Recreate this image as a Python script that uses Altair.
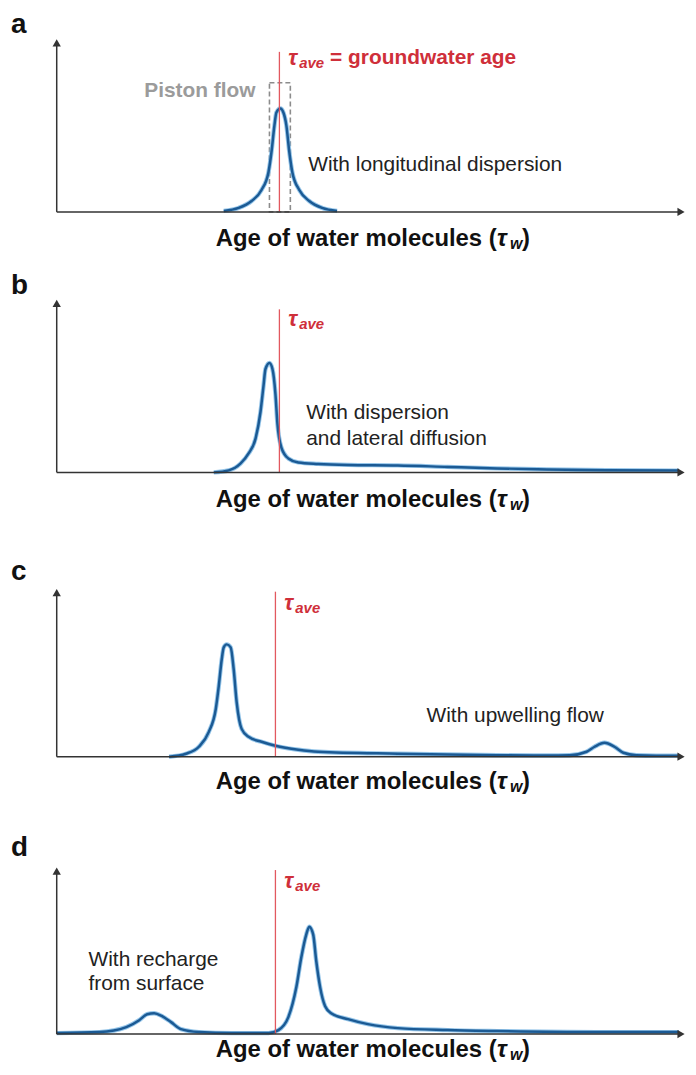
import altair as alt
import pandas as pd

FONT = "Liberation Sans"
BLUE = "#1b5a94"
HALO = "#7ab6e3"
RED_LINE = "#e2585f"
RED_TEXT = "#cf2f3a"
AXIS = "#333333"
GRAY = "#8c8c8c"

# ---------------- data ----------------
panel_letters = ["a", "b", "c", "d"]

# age of water molecules (arbitrary units) vs relative frequency
a_age = [168, 183, 196, 206, 213, 216, 219, 221, 225, 228, 231, 234, 237, 244, 254, 267, 282]
a_freq = [1, 4, 11, 22, 40, 60, 87, 100, 104, 100, 87, 60, 40, 22, 11, 4, 1]

b_age = [158, 173, 185, 193, 200, 205, 208, 210, 214, 217, 220, 222, 226, 233, 243, 263, 293, 343, 393, 443, 493, 553, 626]
b_freq = [0, 2, 9, 19, 34, 61, 87, 104, 110, 104, 79, 49, 25, 14, 10, 8.5, 7.5, 7, 5.5, 4, 3, 2.2, 1.8]

c_age = [113, 130, 143, 153, 160, 163, 166, 168, 171, 175, 178, 181, 186, 193, 206, 220, 243, 263, 343, 443,
         493, 516, 533, 541, 551, 561, 570, 583, 603, 626]
c_freq = [0, 3, 10, 25, 48, 71, 98, 110, 113, 110, 88, 55, 28, 20, 15, 11, 7, 5, 3, 1.5,
          1.2, 1.5, 5, 10, 14, 10, 4, 1.5, 1, 1]

d_age = [0, 43, 70, 83, 91, 98, 106, 115, 125, 143, 176, 213, 223, 233, 241, 246, 251, 254, 258, 261,
         265, 270, 276, 293, 313, 343, 393, 443, 543, 626]
d_freq = [1, 2, 7, 14, 20, 21, 18, 12, 5, 2, 1, 1, 4, 17, 47, 77, 100, 108, 100, 74,
          47, 28, 21, 15, 10, 6, 4, 3, 2, 2]

curves_age = [a_age, b_age, c_age, d_age]
curves_freq = [a_freq, b_freq, c_freq, d_freq]

tau_ave_age = [224, 224, 220, 220]
tau_line_top = [161, 164, 166, 165]
tau_label_h = [155, 154, 155, 154]
arrow_top = [175, 175, 170, 169]
letter_h = [188, 187, 186, 187]
title_h = [-27, -28, -25, -16]
x_axis_end = 628

piston_age = [214, 235]
piston_top = 130
piston_label = "Piston flow"
piston_label_age = 200
piston_label_h = 122

note_panel = ["a", "b", "b", "c", "d", "d"]
note_text = ["With longitudinal dispersion", "With dispersion", "and lateral diffusion",
             "With upwelling flow", "With recharge", "from surface"]
note_age = [253, 251, 251, 372, 32, 32]
note_h = [47, 60, 34, 41, 74, 50]

title_parts = ["Age of water molecules (", "\u03c4", "w", ")"]
title_ages = [160, 443, 456, 468]

tau_parts = ["\u03c4", "ave", "= groundwater age"]
tau_offsets = [9, 20, 51]

# ---------------- layout ----------------
panel_height = [254, 285, 275, 245]
panel_base = [202, 210, 211, 215]


def make_panel(i):
    H, base = panel_height[i], panel_base[i]
    xs = alt.Scale(domain=[0, 636], range=[49, 685], nice=False, zero=False)
    ys = alt.Scale(domain=[base - H, base], nice=False, zero=False)

    def X(f):
        return alt.X(f, type="quantitative", scale=xs, axis=None)

    def Y(f):
        return alt.Y(f, type="quantitative", scale=ys, axis=None)

    def text(df, size, weight="normal", style="normal", color="#222222", align="left", dy=0):
        return alt.Chart(df).mark_text(
            font=FONT, fontSize=size, fontWeight=weight, fontStyle=style, color=color,
            align=align, baseline="middle", dy=dy
        ).encode(x=X("age"), y=Y("h"), text=alt.Text("label:N"))

    layers = []
    letter = panel_letters[i]

    if letter == "a":
        box = pd.DataFrame({"x0": [piston_age[0]], "x1": [piston_age[1]], "h0": [0], "h1": [piston_top]})
        layers.append(alt.Chart(box).mark_rect(
            fillOpacity=0, stroke=GRAY, strokeWidth=1.6, strokeDash=[5, 3]
        ).encode(x=X("x0"), x2="x1", y=Y("h0"), y2="h1"))

    curve = pd.DataFrame({"age": curves_age[i], "freq": curves_freq[i]})
    layers.append(alt.Chart(curve).mark_line(
        interpolate="monotone", color=HALO, strokeWidth=4.4, opacity=0.8
    ).encode(x=X("age"), y=Y("freq")))
    layers.append(alt.Chart(curve).mark_line(
        interpolate="monotone", color=BLUE, strokeWidth=2.5
    ).encode(x=X("age"), y=Y("freq")))

    red = pd.DataFrame({"age": [tau_ave_age[i]], "h0": [0], "h1": [tau_line_top[i]]})
    layers.append(alt.Chart(red).mark_rule(color=RED_LINE, strokeWidth=1.3).encode(
        x=X("age"), y=Y("h0"), y2="h1"))

    # axes with arrow heads
    yax = pd.DataFrame({"age": [0], "h0": [0], "h1": [arrow_top[i] - 6]})
    layers.append(alt.Chart(yax).mark_rule(color=AXIS, strokeWidth=1.5).encode(
        x=X("age"), y=Y("h0"), y2="h1"))
    xax = pd.DataFrame({"a0": [0], "a1": [x_axis_end - 2], "h": [0]})
    layers.append(alt.Chart(xax).mark_rule(color=AXIS, strokeWidth=1.5).encode(
        x=X("a0"), x2="a1", y=Y("h")))
    yhead = pd.DataFrame({"age": [0], "h": [arrow_top[i] - 5]})
    layers.append(alt.Chart(yhead).mark_point(
        shape="triangle-up", filled=True, size=70, color=AXIS, opacity=1
    ).encode(x=X("age"), y=Y("h")))
    xhead = pd.DataFrame({"age": [x_axis_end], "h": [0]})
    layers.append(alt.Chart(xhead).mark_point(
        shape="triangle-right", filled=True, size=70, color=AXIS, opacity=1
    ).encode(x=X("age"), y=Y("h")))

    # panel letter
    layers.append(text(pd.DataFrame({"age": [-46], "h": [letter_h[i]], "label": [letter]}),
                       28, weight="bold", color="#111111"))

    # tau_ave label
    t0 = tau_ave_age[i]
    layers.append(text(pd.DataFrame({"age": [t0 + tau_offsets[0]], "h": [tau_label_h[i]], "label": [tau_parts[0]]}),
                       22, weight="bold", style="italic", color=RED_TEXT))
    layers.append(text(pd.DataFrame({"age": [t0 + tau_offsets[1]], "h": [tau_label_h[i]], "label": [tau_parts[1]]}),
                       15, weight="bold", style="italic", color=RED_TEXT, dy=5))
    if letter == "a":
        layers.append(text(pd.DataFrame({"age": [t0 + tau_offsets[2]], "h": [tau_label_h[i]], "label": [tau_parts[2]]}),
                           21, weight="bold", color=RED_TEXT))
        layers.append(text(pd.DataFrame({"age": [piston_label_age], "h": [piston_label_h], "label": [piston_label]}),
                           21, weight="bold", color="#9b9b9b", align="right"))

    # notes
    idx = [k for k, p in enumerate(note_panel) if p == letter]
    notes = pd.DataFrame({"age": [note_age[k] for k in idx], "h": [note_h[k] for k in idx],
                          "label": [note_text[k] for k in idx]})
    layers.append(text(notes, 21, color="#222222"))

    # x-axis title
    th = title_h[i]
    layers.append(text(pd.DataFrame({"age": [title_ages[0]], "h": [th], "label": [title_parts[0]]}),
                       24, weight="bold", color="#111111"))
    layers.append(text(pd.DataFrame({"age": [title_ages[1]], "h": [th], "label": [title_parts[1]]}),
                       24, weight="bold", style="italic", color="#111111"))
    layers.append(text(pd.DataFrame({"age": [title_ages[2]], "h": [th], "label": [title_parts[2]]}),
                       16, weight="bold", style="italic", color="#111111", dy=5))
    layers.append(text(pd.DataFrame({"age": [title_ages[3]], "h": [th], "label": [title_parts[3]]}),
                       24, weight="bold", color="#111111"))

    return alt.layer(*layers).properties(width=680, height=H)


chart = alt.vconcat(*[make_panel(i) for i in range(4)], spacing=0, bounds="flush", padding=0,
                    background="white").configure_view(strokeWidth=0)

chart.save("out.html", embed_options={"renderer": "svg", "actions": False})
